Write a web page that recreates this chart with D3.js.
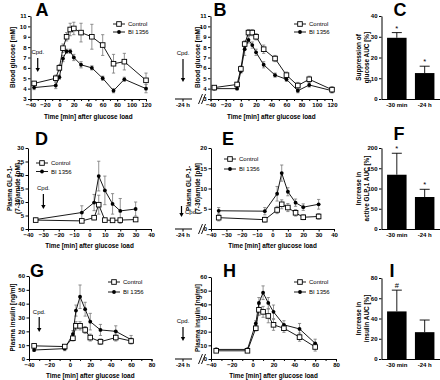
<!DOCTYPE html>
<html lang="en">
<head>
<meta charset="utf-8">
<script src="https://cdn.jsdelivr.net/npm/d3@7"></script>
<style>
  body { margin: 0; background: #fff; }
  svg text { font-family: "Liberation Sans", Arial, sans-serif; fill: #000; }
  .tick text { font-size: 6px; font-weight: bold; }
  .title { font-size: 6.4px; font-weight: bold; }
  .legend { font-size: 6px; }
  .letter { font-size: 18px; font-weight: bold; }
</style>
</head>
<body>
<script>
var w = 440, h = 380;

// sampling times [min] after glucose load
var glucoseTimes = [-35, -5, 0, 5, 10, 15, 20, 30, 45, 60, 75, 90, 120];
var glpTimes = [-35, -5, 3, 6, 10, 15, 20, 30];
var insulinTimes = [-35, -5, 3, 6, 10, 15, 20, 30, 45, 60];

// A: blood glucose, dosing at -30 min
var gluA_ctrl = [4.5, 5.0, 6.0, 7.9, 9.0, 9.7, 9.8, 9.4, 9.0, 8.2, 6.4, 6.6, 4.8];
var gluA_ctrlErr = [0.2, 0.3, 0.3, 0.4, 0.4, 0.6, 0.6, 0.9, 1.2, 1.0, 0.9, 0.8, 0.7];
var gluA_bi = [4.1, 4.3, 5.1, 6.9, 7.6, 7.6, 7.0, 6.3, 6.0, 5.0, 3.8, 4.9, 4.0];
var gluA_biErr = [0.2, 0.3, 0.2, 0.3, 0.2, 0.2, 0.3, 0.3, 0.2, 0.2, 0.2, 0.2, 0.4];

// B: blood glucose, dosing at -24 h
var gluB_ctrl = [4.1, 4.4, 5.9, 8.3, 9.4, 9.4, 9.0, 7.8, 6.9, 5.3, 4.3, 4.9, 3.9];
var gluB_ctrlErr = [0.2, 0.2, 0.3, 0.3, 0.3, 0.3, 0.3, 0.4, 0.3, 0.3, 0.3, 0.3, 0.3];
var gluB_bi = [4.0, 4.0, 5.7, 7.8, 8.7, 8.2, 7.5, 6.3, 5.3, 4.9, 3.8, 4.35, 3.8];
var gluB_biErr = [0.1, 0.1, 0.2, 0.6, 0.3, 0.3, 0.3, 0.3, 0.2, 0.2, 0.2, 0.2, 0.2];

// D: GLP-1, -30 min
var glpD_ctrl = [3.3, 3.0, 4.2, 9.0, 3.3, 3.2, 3.3, 3.5];
var glpD_ctrlErr = [0.5, 0.5, 0.8, 3.5, 0.5, 0.4, 0.4, 0.5];
var glpD_bi = [3.5, 6.1, 9.8, 19.6, 14.3, 9.3, 6.7, 7.4];
var glpD_biErr = [0.5, 2.5, 3.0, 5.5, 5.3, 3.8, 4.6, 2.6];

// E: GLP-1, -24 h
var glpE_ctrl = [2.8, 2.3, 4.7, 6.1, 5.3, 4.0, 2.9, 3.1];
var glpE_ctrlErr = [0.8, 0.6, 0.9, 1.1, 1.0, 0.8, 0.6, 0.7];
var glpE_bi = [4.5, 4.4, 8.7, 13.8, 9.2, 6.5, 5.4, 6.1];
var glpE_biErr = [0.8, 0.9, 1.8, 2.0, 1.0, 0.9, 0.8, 1.2];

// G: insulin, -30 min
var insG_ctrl = [9.5, 9.0, 15.0, 24.0, 24.0, 21.0, 15.5, 12.5, 15.5, 13.0];
var insG_ctrlErr = [1.0, 1.0, 2.0, 3.0, 3.0, 2.5, 2.5, 2.0, 2.5, 2.0];
var insG_bi = [6.5, 7.5, 18.0, 35.0, 45.0, 36.0, 27.0, 21.0, 20.0, 14.0];
var insG_biErr = [1.0, 1.5, 2.5, 4.0, 8.5, 5.0, 6.0, 4.0, 4.0, 3.0];

// H: insulin, -24 h
var insH_ctrl = [6.0, 6.0, 22.5, 36.0, 34.5, 31.5, 25.0, 22.5, 16.0, 8.8];
var insH_ctrlErr = [1.0, 1.0, 2.0, 4.0, 4.0, 5.0, 4.0, 3.0, 3.0, 3.0];
var insH_bi = [7.0, 7.0, 26.0, 41.0, 48.5, 41.0, 34.5, 25.0, 22.0, 11.5];
var insH_biErr = [1.0, 1.0, 2.0, 4.0, 5.0, 4.0, 5.0, 3.0, 4.0, 3.0];

// C, F, I: AUC bars
var barLabels = ["-30 min", "-24 h"];
var aucGlucose = [29.5, 12.5], aucGlucoseErr = [2.5, 3.3], aucGlucoseSig = ["*", "*"];
var aucGlp = [134, 79], aucGlpErr = [53, 19], aucGlpSig = ["*", "*"];
var aucIns = [47, 26.5], aucInsErr = [21, 12], aucInsSig = ["#", ""];

var seriesNames = ["Control", "BI 1356"];

var svg = d3.select("body").append("svg").attr("width", w).attr("height", h);

function styleAxis(g) {
  g.selectAll(".domain, .tick line").attr("stroke", "#000").attr("stroke-width", 1);
}

function rotTitle(lines, xs, cy) {
  lines.forEach(function(t, i) {
    svg.append("text").attr("class", "title")
      .attr("transform", "translate(" + xs[i] + "," + cy + ") rotate(-90)")
      .attr("text-anchor", "middle").attr("dy", "0.35em").text(t);
  });
}

function arrow(x, y1, y2) {
  svg.append("line").attr("x1", x).attr("x2", x).attr("y1", y1).attr("y2", y2 - 3)
    .attr("stroke", "#000").attr("stroke-width", 1.2);
  svg.append("path").attr("d", "M" + (x - 2.2) + "," + (y2 - 4) + "L" + (x + 2.2) + "," + (y2 - 4) + "L" + x + "," + y2 + "Z")
    .attr("fill", "#000");
}

function marker(px, py, open) {
  if (open) {
    svg.append("rect").attr("x", px - 2.3).attr("y", py - 2.3).attr("width", 4.6).attr("height", 4.6)
      .attr("fill", "#fff").attr("stroke", "#000").attr("stroke-width", 0.9);
  } else {
    svg.append("circle").attr("cx", px).attr("cy", py).attr("r", 1.9).attr("fill", "#000");
  }
}

function lineChart(c) {
  var x = d3.scaleLinear().domain(c.xd).range(c.xr);
  var y = d3.scaleLinear().domain(c.yd).range(c.yr);
  var base = c.yr[0];

  if (c.xMinor) {
    svg.append("g").attr("transform", "translate(0," + base + ")")
      .call(d3.axisBottom(x).tickValues(c.xMinor).tickFormat("").tickSize(2).tickSizeOuter(0))
      .call(styleAxis);
  }
  svg.append("g").attr("transform", "translate(0," + base + ")")
    .call(d3.axisBottom(x).tickValues(c.xTicks).tickSize(2.5).tickSizeOuter(0).tickPadding(1.5))
    .call(styleAxis);
  svg.append("g").attr("transform", "translate(" + c.xr[0] + ",0)")
    .call(d3.axisLeft(y).tickValues(c.yTicks).tickSize(2.5).tickSizeOuter(0).tickPadding(1.5))
    .call(styleAxis);

  svg.append("text").attr("class", "title").attr("text-anchor", "middle")
    .attr("x", (c.xr[0] + c.xr[1]) / 2).attr("y", c.xTitleY).text("Time [min] after glucose load");
  rotTitle(c.yTitle, c.yTitleX, (c.yr[0] + c.yr[1]) / 2);
  svg.append("text").attr("class", "letter").attr("text-anchor", "middle")
    .attr("x", c.letter[1]).attr("y", c.letter[2]).text(c.letter[0]);

  // broken axis with the -24 h dosing point
  if (c.brk) {
    svg.append("line").attr("x1", 175).attr("x2", 192).attr("y1", base).attr("y2", base).attr("stroke", "#000");
    svg.append("line").attr("x1", 183).attr("x2", 183).attr("y1", base).attr("y2", base + 2.5).attr("stroke", "#000");
    svg.append("text").attr("x", 183).attr("y", base + 4).attr("dy", "0.71em").attr("text-anchor", "middle")
      .style("font-size", "6px").style("font-weight", "bold").text("-24 h");
    [0, 3].forEach(function(o) {
      svg.append("line").attr("x1", 198.5 + o).attr("y1", base + 5).attr("x2", 202.5 + o).attr("y2", base - 5)
        .attr("stroke", "#000").attr("stroke-width", 0.9);
    });
  }

  // compound dosing marker
  var cx = c.cpd.x === null ? x(-30) : c.cpd.x;
  svg.append("text").attr("class", "legend").attr("text-anchor", c.cpd.anchor || "middle")
    .attr("x", c.cpd.tx !== undefined ? c.cpd.tx : cx).attr("y", c.cpd.ty).text("Cpd.");
  arrow(cx, c.cpd.y1, c.cpd.y2);

  var series = [
    {vals: c.bi, err: c.biErr, open: false},
    {vals: c.ctrl, err: c.ctrlErr, open: true}
  ];
  var line = d3.line().x(function(d) { return x(d.t); }).y(function(d) { return y(d.v); });

  series.forEach(function(s) {
    var pts = c.times.map(function(t, i) { return {t: t, v: s.vals[i], e: s.err[i]}; });
    var eg = svg.append("g").attr("stroke", "#777").attr("stroke-width", 0.8);
    pts.forEach(function(p) {
      eg.append("line").attr("x1", x(p.t)).attr("x2", x(p.t)).attr("y1", y(p.v - p.e)).attr("y2", y(p.v + p.e));
      [p.v - p.e, p.v + p.e].forEach(function(v) {
        eg.append("line").attr("x1", x(p.t) - 1.6).attr("x2", x(p.t) + 1.6).attr("y1", y(v)).attr("y2", y(v));
      });
    });
    s.pts = pts;
  });
  series.forEach(function(s) {
    svg.append("path").datum(s.pts).attr("d", line).attr("fill", "none").attr("stroke", "#000").attr("stroke-width", 0.9);
  });
  series.forEach(function(s) {
    s.pts.forEach(function(p) { marker(x(p.t), y(p.v), s.open); });
  });

  // legend
  seriesNames.forEach(function(n, i) {
    var ly = c.legend.y + i * c.legend.dy;
    svg.append("line").attr("x1", c.legend.x).attr("x2", c.legend.x + 12).attr("y1", ly).attr("y2", ly)
      .attr("stroke", "#000").attr("stroke-width", 0.9);
    marker(c.legend.x + 6, ly, i === 0);
    svg.append("text").attr("class", "legend").attr("x", c.legend.x + 15).attr("y", ly).attr("dy", "0.35em").text(n);
  });
}

function barChart(c) {
  var x = d3.scaleBand().domain(barLabels).range([381.5, 440]).paddingInner(0.3).paddingOuter(0.2);
  var y = d3.scaleLinear().domain(c.yd).range(c.yr);
  var base = c.yr[0];

  barLabels.forEach(function(l, i) {
    svg.append("rect").attr("x", x(l)).attr("width", x.bandwidth())
      .attr("y", y(c.vals[i])).attr("height", base - y(c.vals[i])).attr("fill", "#000");
    var cxm = x(l) + x.bandwidth() / 2;
    var top = y(c.vals[i] + c.err[i]);
    svg.append("line").attr("x1", cxm).attr("x2", cxm).attr("y1", y(c.vals[i])).attr("y2", top)
      .attr("stroke", "#000").attr("stroke-width", 0.9);
    svg.append("line").attr("x1", cxm - 5).attr("x2", cxm + 5).attr("y1", top).attr("y2", top)
      .attr("stroke", "#000").attr("stroke-width", 0.9);
    svg.append("text").attr("text-anchor", "middle").attr("x", cxm).attr("y", top - 2)
      .style("font-size", "7.5px").text(c.sig[i]);
  });

  svg.append("g").attr("transform", "translate(0," + base + ")")
    .call(d3.axisBottom(x).tickSize(0).tickPadding(4).tickSizeOuter(0))
    .call(styleAxis);
  svg.append("g").attr("transform", "translate(381.5,0)")
    .call(d3.axisLeft(y).tickValues(c.yTicks).tickSize(2.5).tickSizeOuter(0).tickPadding(1.5))
    .call(styleAxis);
  rotTitle(c.yTitle, [359, 366.5], (c.yr[0] + c.yr[1]) / 2);
  svg.append("text").attr("class", "letter").attr("text-anchor", "middle")
    .attr("x", c.letter[1]).attr("y", c.letter[2]).text(c.letter[0]);
}

// row 1: glucose
lineChart({letter: ["A", 42, 16], xd: [-40, 120], xr: [30.5, 146], yd: [3, 11], yr: [99, 16],
  xTicks: d3.range(-40, 121, 20), xMinor: d3.range(-40, 121, 10), yTicks: d3.range(3, 12),
  times: glucoseTimes, ctrl: gluA_ctrl, ctrlErr: gluA_ctrlErr, bi: gluA_bi, biErr: gluA_biErr,
  yTitle: ["Blood glucose [mM]"], yTitleX: [13], xTitleY: 119,
  legend: {x: 113, y: 24, dy: 8}, cpd: {x: null, ty: 54, y1: 58, y2: 72}});

lineChart({letter: ["B", 220, 16], xd: [-40, 120], xr: [210.5, 332], yd: [3, 11], yr: [99, 16],
  xTicks: d3.range(-40, 121, 20), xMinor: d3.range(-40, 121, 10), yTicks: d3.range(3, 12),
  times: glucoseTimes, ctrl: gluB_ctrl, ctrlErr: gluB_ctrlErr, bi: gluB_bi, biErr: gluB_biErr,
  yTitle: ["Blood glucose [mM]"], yTitleX: [198], xTitleY: 119, brk: true,
  legend: {x: 294, y: 24, dy: 8}, cpd: {x: 183, ty: 55, y1: 59, y2: 82}});

barChart({letter: ["C", 400, 16], yd: [0, 40], yr: [99, 16], yTicks: d3.range(0, 41, 10),
  vals: aucGlucose, err: aucGlucoseErr, sig: aucGlucoseSig, yTitle: ["Suppression of", "glucose AUC [%]"]});

// row 2: GLP-1
lineChart({letter: ["D", 41.5, 145], xd: [-40, 40], xr: [28, 151], yd: [0, 30], yr: [229, 148],
  xTicks: d3.range(-40, 41, 10), yTicks: d3.range(0, 31, 5),
  times: glpTimes, ctrl: glpD_ctrl, ctrlErr: glpD_ctrlErr, bi: glpD_bi, biErr: glpD_biErr,
  yTitle: ["Plasma GLP-1-", "(7-36)amide [pM]"], yTitleX: [10, 18], xTitleY: 248,
  legend: {x: 36, y: 163, dy: 8.5}, cpd: {x: null, ty: 190, y1: 194, y2: 209}});

lineChart({letter: ["E", 228, 145], xd: [-40, 40], xr: [211, 334], yd: [0, 20], yr: [229, 148],
  xTicks: d3.range(-40, 41, 10), yTicks: d3.range(0, 21, 5),
  times: glpTimes, ctrl: glpE_ctrl, ctrlErr: glpE_ctrlErr, bi: glpE_bi, biErr: glpE_biErr,
  yTitle: ["Plasma GLP-1-", "(7-36)amide [pM]"], yTitleX: [189, 197.5], xTitleY: 248, brk: true,
  legend: {x: 224, y: 159, dy: 10}, cpd: {x: 181.5, tx: 185, anchor: "start", ty: 214, y1: 206, y2: 217}});

barChart({letter: ["F", 399, 140], yd: [0, 200], yr: [229, 148], yTicks: d3.range(0, 201, 50),
  vals: aucGlp, err: aucGlpErr, sig: aucGlpSig, yTitle: ["Increase in", "active GLP-1 AUC [%]"]});

// row 3: insulin
lineChart({letter: ["G", 37, 277], xd: [-40, 80], xr: [29, 151.5], yd: [0, 60], yr: [359, 276],
  xTicks: d3.range(-40, 81, 20), xMinor: d3.range(-40, 81, 10), yTicks: d3.range(0, 61, 10),
  times: insulinTimes, ctrl: insG_ctrl, ctrlErr: insG_ctrlErr, bi: insG_bi, biErr: insG_biErr,
  yTitle: ["Plasma insulin [ng/ml]"], yTitleX: [13], xTitleY: 378,
  legend: {x: 108, y: 282, dy: 10}, cpd: {x: null, ty: 314, y1: 317, y2: 332}});

lineChart({letter: ["H", 229.5, 277], xd: [-40, 80], xr: [211, 336], yd: [0, 60], yr: [359, 277],
  xTicks: d3.range(-40, 81, 20), xMinor: d3.range(-40, 81, 10), yTicks: d3.range(0, 61, 10),
  times: insulinTimes, ctrl: insH_ctrl, ctrlErr: insH_ctrlErr, bi: insH_bi, biErr: insH_biErr,
  yTitle: ["Plasma insulin [ng/ml]"], yTitleX: [198], xTitleY: 378, brk: true,
  legend: {x: 294, y: 282, dy: 10}, cpd: {x: 183, ty: 323, y1: 327, y2: 341}});

barChart({letter: ["I", 392, 277], yd: [0, 80], yr: [359, 278], yTicks: d3.range(0, 81, 20),
  vals: aucIns, err: aucInsErr, sig: aucInsSig, yTitle: ["Increase in", "insulin AUC [%]"]});
</script>
</body>
</html>
